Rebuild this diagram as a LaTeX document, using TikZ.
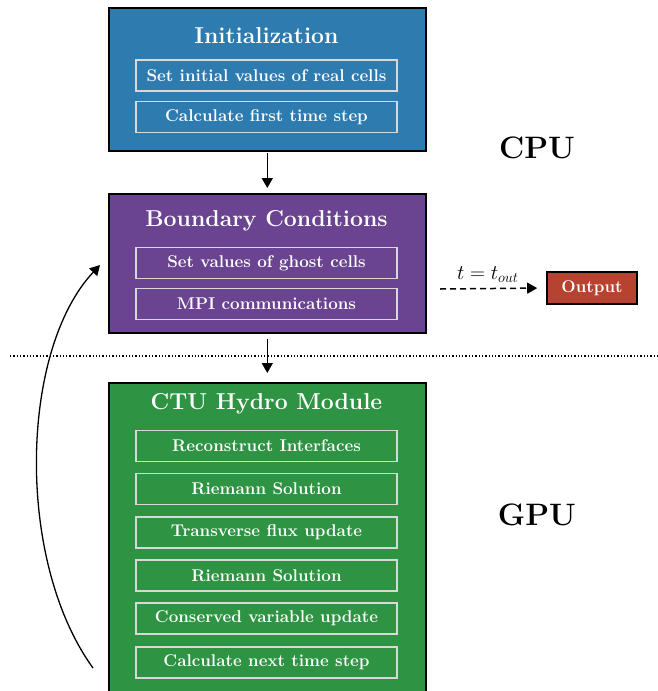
\documentclass[tikz,border=0pt]{standalone}
\usepackage{fontspec}
\usetikzlibrary{arrows.meta,shadows}
\definecolor{initblue}{HTML}{2E7BB0}
\definecolor{bcpurple}{HTML}{6A4490}
\definecolor{hydrogreen}{HTML}{2E9443}
\definecolor{outred}{HTML}{B5432F}
\definecolor{innerline}{HTML}{D8D8D8}
\begin{document}
\begin{tikzpicture}[x=1pt,y=-1pt,
  bigbox/.style={draw=black,line width=1.6pt,minimum width=317pt,anchor=north west,inner sep=0pt,
    drop shadow={shadow xshift=1pt,shadow yshift=-1.5pt,opacity=0.35}},
  titletext/.style={text=white,font=\fontsize{23}{26}\selectfont\bfseries,anchor=center},
  stepbox/.style={draw=innerline,line width=1.4pt,minimum width=261pt,minimum height=31pt,inner sep=0pt,
    text=white,font=\fontsize{17}{20}\selectfont\bfseries,anchor=center},
  arr/.style={-{Triangle[length=10pt,width=11pt]},line width=1.5pt},
  sidelabel/.style={font=\fontsize{31}{34}\selectfont\bfseries,anchor=center}]
\useasboundingbox (0,0) rectangle (657,691);
% Initialization
\node[bigbox,fill=initblue,minimum height=143pt] (init) at (108,7) {};
\node[titletext] (initt) at (266.5,36) {Initialization};
\node[stepbox] (i1) at (266.5,75.5) {Set initial values of real cells};
\node[stepbox] (i2) at (266.5,117) {Calculate first time step};
% Boundary
\node[bigbox,fill=bcpurple,minimum height=139pt] (bc) at (108,193) {};
\node[titletext] (bct) at (266.5,221) {Boundary Conditions};
\node[stepbox] (b1) at (266.5,263) {Set values of ghost cells};
\node[stepbox] (b2) at (266.5,304) {MPI communications};
% Hydro
\node[bigbox,fill=hydrogreen,minimum height=330pt] (hy) at (108,382) {};
\node[titletext] (hyt) at (266.5,404) {CTU Hydro Module};
\node[stepbox] (h1) at (266.5,446) {Reconstruct Interfaces};
\node[stepbox] (h2) at (266.5,489) {Riemann Solution};
\node[stepbox] (h3) at (266.5,532.5) {Transverse flux update};
\node[stepbox] (h4) at (266.5,575.5) {Riemann Solution};
\node[stepbox] (h5) at (266.5,618.5) {Conserved variable update};
\node[stepbox] (h6) at (266.5,662.5) {Calculate next time step};
% Output
\node[draw=black,line width=1.6pt,fill=outred,minimum width=90pt,minimum height=32pt,inner sep=0pt,
  text=white,font=\fontsize{17}{20}\selectfont\bfseries] (out) at (592,288) {Output};
% labels
\node[sidelabel] (cpu) at (537,148) {CPU};
\node[sidelabel] (gpu) at (537,515) {GPU};
% arrows
\draw[arr,shorten <=1pt,shorten >=5pt] (init.south) -- (bc.north);
\draw[arr,shorten <=5pt,shorten >=9pt] (bc.south) -- (hy.north);
\coordinate (ds) at (440,289);
\draw[arr,dash pattern=on 6pt off 4pt,shorten >=9pt] (ds) -- node[above=2pt,pos=0.45,font=\fontsize{21}{24}\selectfont] (tl) {$t = t_{out}$} (out.west);
% dotted separator
\coordinate (sepl) at (10,356);
\coordinate (sepr) at (657,356);
\draw[line width=1.3pt,dotted] (sepl) -- (sepr);
% loop arrow
\coordinate (ls) at (93,668);
\coordinate (le) at (100,265);
\draw[arr,line width=1.3pt] (ls) .. controls (15,560) and (20,350) .. (le);
\end{tikzpicture}
\end{document}
